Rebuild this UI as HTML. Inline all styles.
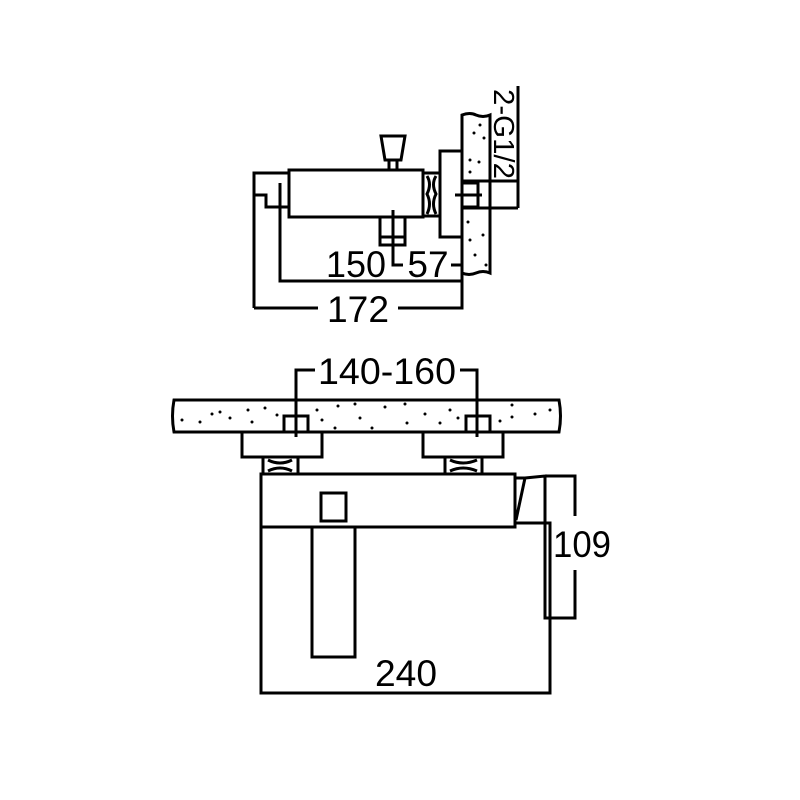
<!DOCTYPE html>
<html><head><style>body{margin:0;background:#fff}svg{display:block}</style></head>
<body>
<svg width="800" height="800" viewBox="0 0 800 800" xmlns="http://www.w3.org/2000/svg" font-family="Liberation Sans, sans-serif">
<g fill="none" stroke="#000" stroke-width="3">
<!-- TOP VIEW -->
<path d="M462,115 Q470,112 476,115 Q483,118 490,115 L490,273 Q483,270 476,273 Q469,276 462,273 Z" fill="#fff"/>
<rect x="440" y="151" width="22" height="86"/>
<rect x="289" y="170" width="134" height="47"/>
<path d="M423,173 L440,173 L440,216 L423,216"/>
<path d="M427,176 Q432,184 427,194 Q432,204 427,214" stroke-width="3"/>
<path d="M436,176 Q431,184 436,194 Q431,204 436,214" stroke-width="3"/>
<path d="M381,136 L405,136 L401,160 L385,160 Z"/>
<path d="M389,160 L389,170 M397,160 L397,170"/>
<path d="M254,308 L254,173 L289,173"/>
<path d="M254,195 L266,195 L266,207 L289,207"/>
<rect x="380" y="217" width="25" height="28"/>
<path d="M380,237 L405,237"/>
<rect x="462" y="183" width="16" height="24"/>
<path d="M455,195 L482,195"/>
<path d="M462,181 L518,181 M462,208 L518,208 M518,86 L518,208"/>
<!-- dims -->
<path d="M280,183 L280,281 L462,281"/>
<path d="M254,308 L318,308 M398,308 L462,308 L462,260"/>
<path d="M393,210 L393,265 L403,265 M451,265 L462,265"/>
<!-- FRONT VIEW -->
<path d="M174,400 L559,400 Q562,416 559,432 L174,432 Q171,416 174,400 Z"/>
<rect x="284" y="416" width="24" height="16"/>
<rect x="466" y="416" width="24" height="16"/>
<path d="M296,437 L296,370 L315,370 M460,370 L477,370 L477,437"/>
<rect x="242" y="432" width="80" height="25"/>
<rect x="423" y="432" width="80" height="25"/>
<rect x="263" y="457" width="35" height="17"/>
<rect x="445" y="457" width="37" height="17"/>
<path d="M268,460 Q280,466 292,460 M268,471 Q280,465 292,471 M450,460 Q463,466 477,460 M450,471 Q463,465 477,471" stroke-width="3"/>
<rect x="261" y="474" width="254" height="53"/>
<rect x="321" y="493" width="25" height="28"/>
<path d="M261,527 L261,693 L550,693 L550,523 L515,523"/>
<rect x="312" y="527" width="43" height="130"/>
<path d="M515,478 L525,478 L516,520 M525,478 L545,476 L545,618 L575,618 L575,570 M575,516 L575,476 L545,476"/>
</g>
<g fill="#000">
<circle cx="480" cy="125" r="1.5"/><circle cx="474" cy="133" r="1.5"/><circle cx="484" cy="138" r="1.5"/><circle cx="470" cy="160" r="1.5"/><circle cx="479" cy="162" r="1.5"/><circle cx="470" cy="172" r="1.5"/><circle cx="468" cy="222" r="1.5"/><circle cx="483" cy="235" r="1.5"/><circle cx="470" cy="240" r="1.5"/><circle cx="475" cy="255" r="1.5"/><circle cx="486" cy="265" r="1.5"/>
<circle cx="182" cy="420" r="1.5"/><circle cx="200" cy="422" r="1.5"/><circle cx="212" cy="414" r="1.5"/><circle cx="220" cy="412" r="1.5"/><circle cx="230" cy="418" r="1.5"/><circle cx="248" cy="410" r="1.5"/><circle cx="252" cy="422" r="1.5"/><circle cx="265" cy="408" r="1.5"/><circle cx="277" cy="415" r="1.5"/><circle cx="317" cy="410" r="1.5"/><circle cx="322" cy="420" r="1.5"/><circle cx="338" cy="406" r="1.5"/><circle cx="335" cy="428" r="1.5"/><circle cx="355" cy="404" r="1.5"/><circle cx="360" cy="418" r="1.5"/><circle cx="372" cy="428" r="1.5"/><circle cx="385" cy="407" r="1.5"/><circle cx="405" cy="404" r="1.5"/><circle cx="407" cy="423" r="1.5"/><circle cx="425" cy="414" r="1.5"/><circle cx="440" cy="423" r="1.5"/><circle cx="450" cy="410" r="1.5"/><circle cx="458" cy="418" r="1.5"/><circle cx="512" cy="405" r="1.5"/><circle cx="512" cy="417" r="1.5"/><circle cx="535" cy="414" r="1.5"/><circle cx="550" cy="410" r="1.5"/><circle cx="500" cy="421" r="1.5"/>
</g>
<g font-size="37" fill="#000" text-anchor="middle">
<text x="356" y="277" textLength="60" lengthAdjust="spacingAndGlyphs">150</text>
<text x="428" y="277">57</text>
<text x="358" y="322" textLength="62" lengthAdjust="spacingAndGlyphs">172</text>
<text x="387" y="384" textLength="138" lengthAdjust="spacingAndGlyphs">140-160</text>
<text x="582" y="557" textLength="58" lengthAdjust="spacingAndGlyphs">109</text>
<text x="406" y="686" textLength="62" lengthAdjust="spacingAndGlyphs">240</text>
</g>
<text x="0" y="0" font-size="29" text-anchor="start" transform="translate(494,89) rotate(90)" textLength="90" lengthAdjust="spacingAndGlyphs">2-G1/2</text>
</svg>
</body></html>
